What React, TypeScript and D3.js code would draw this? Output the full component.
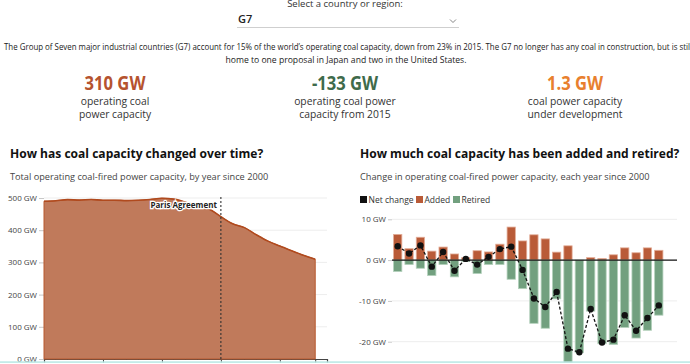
import React, { useEffect, useRef } from 'react';
import * as d3 from 'd3';

// values
const years = [2000, 2001, 2002, 2003, 2004, 2005, 2006, 2007, 2008, 2009, 2010, 2011,
  2012, 2013, 2014, 2015, 2016, 2017, 2018, 2019, 2020, 2021, 2022, 2023];
const capacity = [490, 491.6, 495, 493.5, 495.5, 493, 493.2, 492, 493, 495.5, 499, 496.5,
  487, 475, 466, 442, 420, 408, 386, 366, 351, 336, 322, 310];
const added = [6.3, 2.8, 5.6, 2.2, 3.2, 1.5, 0.6, 2.3, 2.0, 3.9, 8.1, 4.7,
  6.2, 5.2, 1.95, 3.5, 0, 0.6, 0.4, 1.3, 3.0, 1.8, 3.0, 2.4];
const retired = [-2.8, -1.1, -2.0, -3.8, -1.1, -4.1, -0.3, -3.3, -1.1, -1.1, -4.7, -7.0,
  -15.5, -16.7, -9.5, -25.1, -22.7, -12.5, -20.5, -20.7, -16.5, -19.1, -17.2, -13.5];
const netChange = [3.4, 1.6, 3.6, -1.6, 2.0, -2.6, 0.3, -1.1, 0.8, 2.7, 3.3, -2.4,
  -9.4, -11.5, -7.8, -21.7, -22.6, -12.0, -20.2, -19.5, -13.5, -17.3, -14.2, -11.1];

const capacityTicks = [0, 100, 200, 300, 400, 500];
const changeTicks = [-20, -10, 0, 10];
const yearTicks = [2000, 2005, 2010, 2015, 2020, 2023];

const statValues = ['310 GW', '-133 GW', '1.3 GW'];
const statLabels = [
  ['operating coal', 'power capacity'],
  ['operating coal power', 'capacity from 2015'],
  ['coal power capacity', 'under development'],
];
const statColours = ['#b5532f', '#3f6b4b', '#e8802e'];

const legendLabels = ['Net change', 'Added', 'Retired'];
const legendColours = ['#111111', '#b95b38', '#72a07f'];

const description = [
  'The Group of Seven major industrial countries (G7) account for 15% of the world\u2019s operating coal capacity, down from 23% in 2015. The G7 no longer has any coal in construction, but is still',
  'home to one proposal in Japan and two in the United States.',
];

const FONT = '"Open Sans", "DejaVu Sans", sans-serif';

// squeeze a text to a narrower width, keeping its height
function condense(sel: any, ratio: number, maxWidth?: number) {
  sel.each(function (this: any) {
    const w = this.getComputedTextLength();
    let target = w * ratio;
    if (maxWidth && target > maxWidth) target = maxWidth;
    if (target < w) {
      d3.select(this).attr('textLength', target).attr('lengthAdjust', 'spacingAndGlyphs');
    }
  });
}

function styleAxis(g: any) {
  g.select('.domain').remove();
  g.selectAll('.tick line').attr('stroke', '#c8c8c8');
  g.selectAll('.tick text')
    .attr('fill', '#444')
    .attr('font-size', 8)
    .attr('font-family', FONT);
}

function drawHeader(svg: any) {
  svg.append('text')
    .attr('x', 345).attr('y', 6.5)
    .attr('text-anchor', 'middle')
    .attr('font-size', 9.5).attr('fill', '#333')
    .text('Select a country or region:');

  svg.append('text')
    .attr('x', 238).attr('y', 22.5)
    .attr('font-size', 11).attr('font-weight', 600).attr('fill', '#222')
    .text('G7');
  svg.append('path')
    .attr('d', 'M450,19.5 L453,22.5 L456,19.5')
    .attr('fill', 'none').attr('stroke', '#777').attr('stroke-width', 0.9);
  svg.append('line')
    .attr('x1', 237).attr('x2', 459).attr('y1', 27.5).attr('y2', 27.5)
    .attr('stroke', '#cfcfcf');

  const desc = svg.selectAll('.desc')
    .data(description)
    .enter().append('text')
    .attr('class', 'desc')
    .attr('x', (d: string, i: number) => (i === 0 ? 4 : 346))
    .attr('y', (d: string, i: number) => 50 + i * 13)
    .attr('text-anchor', (d: string, i: number) => (i === 0 ? 'start' : 'middle'))
    .attr('font-size', 8.6).attr('fill', '#222')
    .text((d: string) => d);
  condense(desc.filter((d: string, i: number) => i === 0), 1, 688);

  const stat = svg.selectAll('.stat')
    .data(statValues)
    .enter().append('g')
    .attr('class', 'stat')
    .attr('transform', (d: string, i: number) => `translate(${115 + i * 230}, 0)`);

  const values = stat.append('text')
    .attr('y', 90)
    .attr('text-anchor', 'middle')
    .attr('font-size', 20).attr('font-weight', 700)
    .attr('fill', (d: string, i: number) => statColours[i])
    .text((d: string) => d);
  condense(values, 0.83);

  stat.each(function (this: any, d: string, i: number) {
    d3.select(this).selectAll('.label')
      .data(statLabels[i])
      .enter().append('text')
      .attr('class', 'label')
      .attr('y', (l: string, j: number) => 104.5 + j * 13)
      .attr('text-anchor', 'middle')
      .attr('font-size', 10.3).attr('fill', '#333')
      .text((l: string) => l);
  });
}

function drawCapacity(svg: any) {
  const x = d3.scaleLinear().domain([2000, 2024]).range([44, 327]);
  const y = d3.scaleLinear().domain([0, 500]).range([359, 198]);

  svg.append('text')
    .attr('x', 10).attr('y', 158)
    .attr('font-size', 12.05).attr('font-weight', 700).attr('fill', '#111')
    .text('How has coal capacity changed over time?');
  svg.append('text')
    .attr('x', 10).attr('y', 180)
    .attr('font-size', 9.2).attr('fill', '#444')
    .text('Total operating coal-fired power capacity, by year since 2000');

  svg.append('g').selectAll('line')
    .data(capacityTicks.filter(t => t > 0))
    .enter().append('line')
    .attr('x1', 44).attr('x2', 327)
    .attr('y1', (d: number) => y(d)).attr('y2', (d: number) => y(d))
    .attr('stroke', '#ededed');

  svg.append('g')
    .attr('transform', 'translate(44,0)')
    .call(d3.axisLeft(y).tickValues(capacityTicks).tickSize(5).tickPadding(2)
      .tickFormat((d: any) => `${d} GW`))
    .call(styleAxis);

  const xAxis = svg.append('g')
    .attr('transform', 'translate(0,359)')
    .call(d3.axisBottom(x).tickValues(yearTicks).tickSize(4).tickFormat(d3.format('d')));
  xAxis.select('.domain').attr('stroke', '#444').attr('stroke-width', 1.2);
  xAxis.selectAll('.tick line').attr('stroke', '#444');
  xAxis.selectAll('.tick text').attr('font-size', 8).attr('fill', '#444').attr('font-family', FONT);

  const area = d3.area<number>()
    .x((d, i) => x(years[i]))
    .y0(y(0))
    .y1(d => y(d))
    .curve(d3.curveMonotoneX);
  const line = d3.line<number>()
    .x((d, i) => x(years[i]))
    .y(d => y(d))
    .curve(d3.curveMonotoneX);

  svg.append('path')
    .datum(capacity)
    .attr('d', area)
    .attr('fill', '#c07a5b')
    .attr('stroke', '#b8582e').attr('stroke-width', 1);
  svg.append('path')
    .datum(capacity)
    .attr('d', line)
    .attr('fill', 'none')
    .attr('stroke', '#b04a1e').attr('stroke-width', 1.6);

  svg.append('line')
    .attr('x1', x(2015)).attr('x2', x(2015))
    .attr('y1', 197).attr('y2', 359)
    .attr('stroke', '#333').attr('stroke-width', 1.1)
    .attr('stroke-dasharray', '2,2');
  svg.append('text')
    .attr('x', x(2015) - 4).attr('y', 208)
    .attr('text-anchor', 'end')
    .attr('font-size', 8).attr('font-weight', 700).attr('fill', '#222')
    .attr('stroke', '#fff').attr('stroke-width', 2.5).attr('paint-order', 'stroke')
    .text('Paris Agreement');
}

function drawChanges(svg: any) {
  const x = d3.scaleBand<number>().domain(years).range([390.5, 666]).padding(0.27);
  const y = d3.scaleLinear().domain([-20, 10]).range([341.7, 219.3]);
  const cx = (i: number) => (x(years[i]) as number) + x.bandwidth() / 2;

  svg.append('text')
    .attr('x', 360).attr('y', 158)
    .attr('font-size', 12.05).attr('font-weight', 700).attr('fill', '#111')
    .text('How much coal capacity has been added and retired?');
  svg.append('text')
    .attr('x', 360).attr('y', 180)
    .attr('font-size', 9.2).attr('fill', '#444')
    .text('Change in operating coal-fired power capacity, each year since 2000');

  // legend
  const legend = svg.append('g').attr('transform', 'translate(360,196)');
  const offsets = [0, 56, 93];
  legendLabels.forEach((label, i) => {
    legend.append('rect')
      .attr('x', offsets[i]).attr('y', 0).attr('width', 7).attr('height', 7)
      .attr('fill', legendColours[i]);
    legend.append('text')
      .attr('x', offsets[i] + 8.5).attr('y', 6.8)
      .attr('font-size', 8.5).attr('fill', '#333')
      .text(label);
  });

  svg.append('g').selectAll('line')
    .data(changeTicks.filter(t => t !== 0))
    .enter().append('line')
    .attr('x1', 392).attr('x2', 677)
    .attr('y1', (d: number) => y(d)).attr('y2', (d: number) => y(d))
    .attr('stroke', '#ededed');

  svg.append('g')
    .attr('transform', 'translate(392,0)')
    .call(d3.axisLeft(y).tickValues(changeTicks).tickSize(4).tickPadding(2)
      .tickFormat((d: any) => `${d} GW`))
    .call(styleAxis);

  svg.append('g').selectAll('rect')
    .data(added)
    .enter().append('rect')
    .attr('x', (d: number, i: number) => x(years[i]))
    .attr('y', (d: number) => y(d))
    .attr('width', x.bandwidth())
    .attr('height', (d: number) => y(0) - y(d))
    .attr('fill', legendColours[1])
    .attr('stroke', '#e3ad98').attr('stroke-width', 0.8);

  svg.append('g').selectAll('rect')
    .data(retired)
    .enter().append('rect')
    .attr('x', (d: number, i: number) => x(years[i]))
    .attr('y', y(0))
    .attr('width', x.bandwidth())
    .attr('height', (d: number) => y(d) - y(0))
    .attr('fill', legendColours[2])
    .attr('stroke', '#b4d1bc').attr('stroke-width', 0.8);

  svg.append('line')
    .attr('x1', 392).attr('x2', 677)
    .attr('y1', y(0)).attr('y2', y(0))
    .attr('stroke', '#111').attr('stroke-width', 1.3);

  const netLine = d3.line<number>()
    .x((d, i) => cx(i))
    .y(d => y(d));

  svg.append('path')
    .datum(netChange)
    .attr('d', netLine)
    .attr('fill', 'none')
    .attr('stroke', '#111').attr('stroke-width', 1.3)
    .attr('stroke-dasharray', '3,2');

  svg.append('g').selectAll('circle')
    .data(netChange)
    .enter().append('circle')
    .attr('cx', (d: number, i: number) => cx(i))
    .attr('cy', (d: number) => y(d))
    .attr('r', 3.2)
    .attr('fill', '#111');
}

export default function App() {
  const root = useRef<SVGSVGElement>(null);

  useEffect(() => {
    const svg = d3.select(root.current);
    svg.selectAll('*').remove();

    drawHeader(svg);
    drawCapacity(svg);
    drawChanges(svg);

    // thin border line along the bottom of the page
    svg.append('rect')
      .attr('x', 0).attr('y', 361.3).attr('width', 690).attr('height', 1.6)
      .attr('fill', '#bde9e6');
  }, []);

  return (
    <svg
      ref={root}
      width={690}
      height={364}
      style={{ position: 'absolute', left: 0, top: 0, fontFamily: FONT, background: '#fff' }}
    />
  );
}
